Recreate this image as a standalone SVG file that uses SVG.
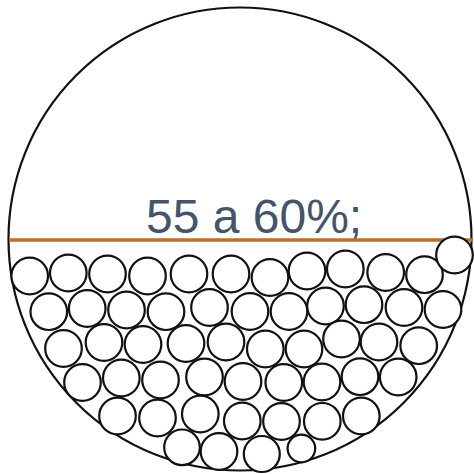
<svg xmlns="http://www.w3.org/2000/svg" width="474" height="474" viewBox="0 0 474 474">
<style>
.b{fill:#fff;stroke:#111;stroke-width:2.2}
.s{fill:none;stroke:#111;stroke-width:2.2}
.t{font-family:"Liberation Sans",Arial,sans-serif;font-size:48px;fill:#44546a}
</style>
<rect width="474" height="474" fill="#fff"/>
<g id="container"><circle cx="240" cy="239" r="231.5" class="s"/></g>
<g id="label"><text x="146" y="233" class="t">55 a 60%;</text></g>
<g id="level"><line x1="9" y1="240" x2="473" y2="240" stroke="#b5732f" stroke-width="3.4"/></g>
<g id="balls">
<circle cx="29.7" cy="276" r="18.3" class="b"/>
<circle cx="68.3" cy="273" r="18.3" class="b"/>
<circle cx="107.5" cy="274" r="18.3" class="b"/>
<circle cx="147.5" cy="276" r="18.3" class="b"/>
<circle cx="189" cy="274" r="18.3" class="b"/>
<circle cx="231" cy="274" r="18.3" class="b"/>
<circle cx="270" cy="277.5" r="18.3" class="b"/>
<circle cx="307" cy="271" r="18.3" class="b"/>
<circle cx="345.3" cy="269" r="18.3" class="b"/>
<circle cx="385.7" cy="272.5" r="18.3" class="b"/>
<circle cx="424.5" cy="274.7" r="18.3" class="b"/>
<circle cx="454.5" cy="255" r="18.3" class="b"/>
<circle cx="48.8" cy="311.7" r="18.3" class="b"/>
<circle cx="87.2" cy="308.5" r="18.3" class="b"/>
<circle cx="126.5" cy="310" r="18.3" class="b"/>
<circle cx="166" cy="311.7" r="18.3" class="b"/>
<circle cx="209.5" cy="307.5" r="18.3" class="b"/>
<circle cx="250" cy="311.5" r="18.3" class="b"/>
<circle cx="289" cy="311.5" r="18.3" class="b"/>
<circle cx="325.5" cy="306" r="18.3" class="b"/>
<circle cx="364" cy="304.7" r="18.3" class="b"/>
<circle cx="404" cy="307.5" r="18.3" class="b"/>
<circle cx="443" cy="309.5" r="18.3" class="b"/>
<circle cx="63.5" cy="348.5" r="18.3" class="b"/>
<circle cx="104" cy="342.5" r="18.3" class="b"/>
<circle cx="143" cy="344.5" r="18.3" class="b"/>
<circle cx="186" cy="343.5" r="18.3" class="b"/>
<circle cx="226" cy="342" r="18.3" class="b"/>
<circle cx="265.3" cy="349" r="18.3" class="b"/>
<circle cx="304" cy="349" r="18.3" class="b"/>
<circle cx="341.5" cy="339" r="18.3" class="b"/>
<circle cx="379" cy="342" r="18.3" class="b"/>
<circle cx="418.7" cy="345.7" r="18.3" class="b"/>
<circle cx="82.5" cy="382.5" r="18.3" class="b"/>
<circle cx="121.3" cy="378" r="18.3" class="b"/>
<circle cx="160.5" cy="380" r="18.3" class="b"/>
<circle cx="204.5" cy="377" r="18.3" class="b"/>
<circle cx="243" cy="381.5" r="18.3" class="b"/>
<circle cx="283.8" cy="382.5" r="18.3" class="b"/>
<circle cx="322" cy="382" r="18.3" class="b"/>
<circle cx="360" cy="376.7" r="18.3" class="b"/>
<circle cx="398.2" cy="377" r="18.3" class="b"/>
<circle cx="117.5" cy="416" r="18.3" class="b"/>
<circle cx="157.5" cy="418" r="18.3" class="b"/>
<circle cx="200.3" cy="414" r="18.3" class="b"/>
<circle cx="242.3" cy="421" r="18.3" class="b"/>
<circle cx="281.5" cy="421.5" r="18.3" class="b"/>
<circle cx="322.3" cy="421.3" r="18.3" class="b"/>
<circle cx="361.3" cy="416" r="18.3" class="b"/>
<circle cx="182" cy="447.3" r="17.8" class="b"/>
<circle cx="219" cy="451.5" r="18.3" class="b"/>
<circle cx="261.8" cy="454" r="18" class="b"/>
<circle cx="301.4" cy="448.5" r="13.8" class="b"/>
</g>
</svg>
